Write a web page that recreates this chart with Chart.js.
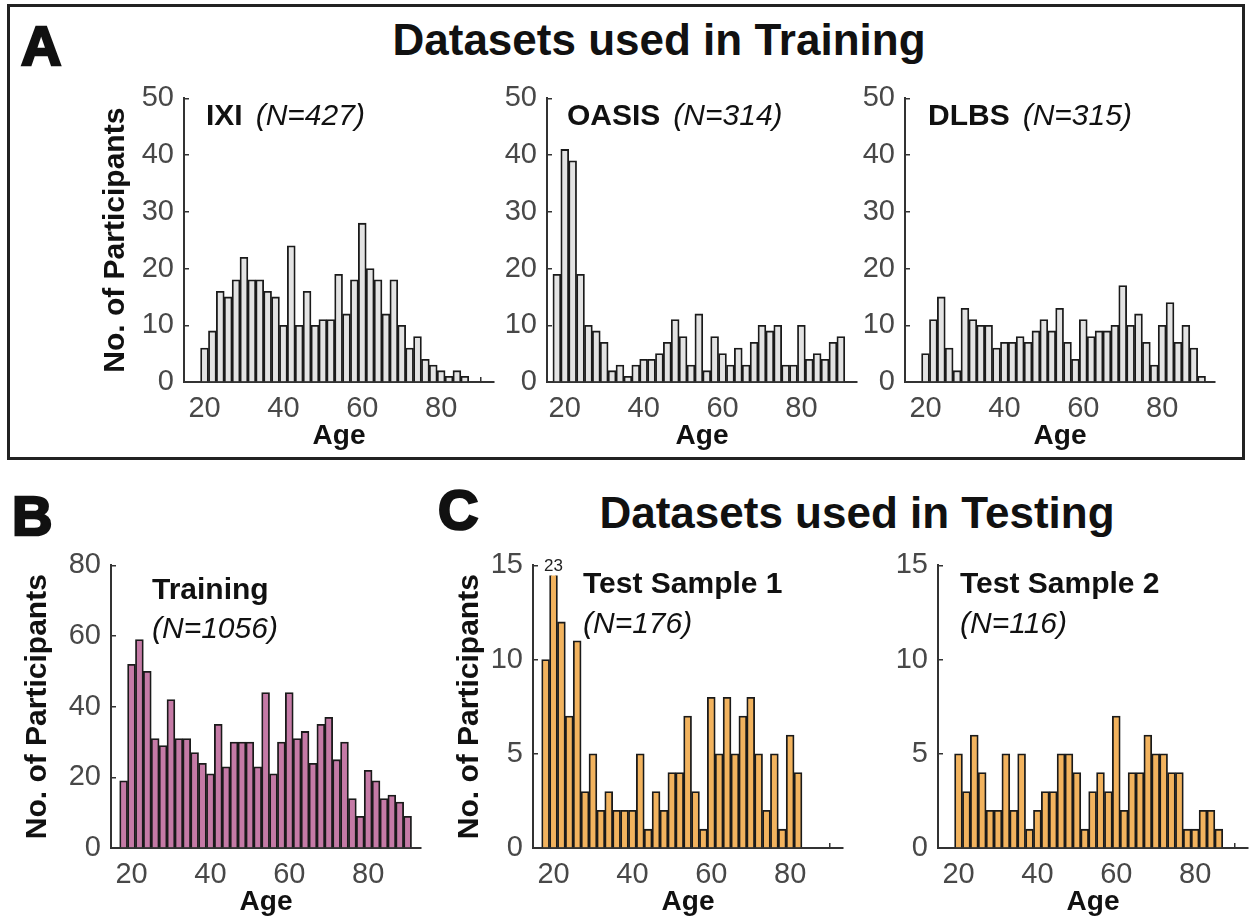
<!DOCTYPE html>
<html>
<head>
<meta charset="utf-8">
<script src="https://cdn.jsdelivr.net/npm/chart.js@4.4.0/dist/chart.umd.min.js"></script>
<style>
  body { margin: 0; background: #fff; width: 1252px; height: 921px; position: relative; overflow: hidden;
         font-family: "Liberation Sans", Arial, sans-serif; color: #111; }
  .frame { position: absolute; left: 7px; top: 4px; width: 1232px; height: 450px; border: 3px solid #222; }
  .letter { position: absolute; font-size: 56px; line-height: 1; font-weight: bold; -webkit-text-stroke: 2.5px #111; }
  .head { position: absolute; font-size: 44px; line-height: 1; font-weight: bold; transform: translateX(-50%); white-space: nowrap; }
  canvas { position: absolute; }
</style>
</head>
<body>
<div class="frame"></div>
<div class="letter" style="left:21px;top:18px">A</div>
<div class="head" style="left:659px;top:18px">Datasets used in Training</div>
<div class="letter" style="left:12px;top:488px">B</div>
<div class="letter" style="left:438px;top:482px">C</div>
<div class="head" style="left:857px;top:491px">Datasets used in Testing</div>

<canvas id="ixi"></canvas>
<canvas id="oasis"></canvas>
<canvas id="dlbs"></canvas>
<canvas id="training"></canvas>
<canvas id="test1"></canvas>
<canvas id="test2"></canvas>

<script>
// bin centres (2-year bins), shared by every histogram
const ageBins = [18, 20, 22, 24, 26, 28, 30, 32, 34, 36, 38, 40, 42, 44, 46, 48, 50, 52, 54,
                 56, 58, 60, 62, 64, 66, 68, 70, 72, 74, 76, 78, 80, 82, 84, 86, 88, 90];

// counts per bin (null = no bar)
const ixiCounts = [null, 6, 9, 16, 15, 18, 22, 18, 18, 16, 15, 10, 24, 10, 16, 10, 11, 11, 19,
                   12, 18, 28, 20, 18, 12, 18, 10, 6, 8, 4, 3, 2, 1, 2, 1, null, null];
const oasisCounts = [19, 41, 39, 19, 10, 9, 7, 2, 3, 1, 3, 4, 4, 5, 7, 11, 8, 3, 12,
                     2, 8, 5, 3, 6, 3, 7, 10, 9, 10, 3, 3, 10, 4, 5, 4, 7, 8];
const dlbsCounts = [null, 5, 11, 15, 6, 2, 13, 11, 10, 10, 6, 7, 7, 8, 7, 9, 11, 9, 13,
                    7, 4, 11, 8, 9, 9, 10, 17, 10, 12, 7, 3, 10, 14, 7, 10, 6, 1];
const trainingCounts = [19, 52, 59, 50, 31, 29, 42, 31, 31, 27, 24, 21, 35, 23, 30, 30, 30, 23, 44,
                        21, 30, 44, 31, 33, 24, 35, 37, 25, 30, 14, 9, 22, 19, 14, 15, 13, 9];
const test1Counts = [10, 23, 12, 7, 11, 3, 5, 2, 3, 2, 2, 2, 5, 1, 3, 2, 4, 4, 7,
                     3, 1, 8, 5, 8, 5, 7, 8, 5, 2, 5, 1, 6, 4, null, null, null, null];
const test2Counts = [null, 5, 3, 6, 4, 2, 2, 5, 2, 5, 1, 2, 3, 3, 5, 5, 4, 1, 3,
                     4, 3, 7, 2, 4, 4, 6, 5, 5, 4, 4, 1, 1, 2, 2, 1, null, null];

// tick labels
const xTicks = [20, 40, 60, 80];
const yTicksTrainSets = [0, 10, 20, 30, 40, 50];
const yTicksTraining = [0, 20, 40, 60, 80];
const yTicksTest = [0, 5, 10, 15];

Chart.defaults.font.family = '"Liberation Sans", Arial, sans-serif';

// panel subtitle: bold name + italic sample size
const subtitlePlugin = {
    id: 'subtitle',
    afterDraw(chart, args, o) {
        if (!o.name) return;
        const { ctx, chartArea } = chart;
        const x = chartArea.left + o.dx;
        const y = chartArea.top + o.dy;
        ctx.save();
        ctx.fillStyle = '#111';
        ctx.textBaseline = 'middle';
        ctx.font = 'bold 30px "Liberation Sans"';
        ctx.fillText(o.name, x, y);
        const w = ctx.measureText(o.name).width;
        ctx.font = 'italic 30px "Liberation Sans"';
        if (o.inline) ctx.fillText(o.n, x + w + 13, y);
        else ctx.fillText(o.n, x, y + o.dy2);
        ctx.restore();
    }
};

// print the count of any bar that runs past the top of the axis
const overflowPlugin = {
    id: 'overflow',
    afterDatasetsDraw(chart) {
        const { ctx, chartArea } = chart;
        const yMax = chart.scales.y.max;
        const meta = chart.getDatasetMeta(0);
        ctx.save();
        ctx.fillStyle = '#222';
        ctx.font = '17px "Liberation Sans"';
        ctx.textAlign = 'center';
        ctx.textBaseline = 'middle';
        chart.data.datasets[0].data.forEach((d, i) => {
            if (d.y !== null && d.y > yMax) ctx.fillText(String(d.y), meta.data[i].x, chartArea.top + 1);
        });
        ctx.restore();
    }
};

function drawHist(id, counts, cfg) {
    const plotW = 310, padTop = 20, padBottom = 71;
    const canvas = document.getElementById(id);
    canvas.width = cfg.padLeft + plotW + cfg.padRight;
    canvas.height = padTop + cfg.plotH + padBottom;
    canvas.style.left = (cfg.axisX - cfg.padLeft) + 'px';
    canvas.style.top = (cfg.topY - padTop) + 'px';

    const axisGrid = { drawOnChartArea: false, color: '#333', tickLength: -5, lineWidth: 1.5 };
    const axisBorder = { color: '#333', width: 2 };

    new Chart(canvas, {
        type: 'bar',
        data: {
            datasets: [{
                data: ageBins.map((a, i) => ({ x: a, y: counts[i] })),
                backgroundColor: cfg.fill,
                borderColor: '#1a1a1a',
                borderWidth: 1.8,
                categoryPercentage: 1,
                barPercentage: 1,
                clip: { left: 2, right: 2, top: -10, bottom: 2 }
            }]
        },
        options: {
            responsive: false,
            animation: false,
            layout: { padding: { top: padTop, right: cfg.padRight, left: 0, bottom: 0 } },
            plugins: {
                legend: { display: false },
                tooltip: { enabled: false },
                subtitle: cfg.sub
            },
            scales: {
                x: {
                    type: 'linear',
                    min: cfg.xMin,
                    max: cfg.xMax,
                    offset: false,
                    afterFit: s => { s.height = padBottom; },
                    afterBuildTicks: s => { s.ticks = xTicks.map(v => ({ value: v })); },
                    grid: axisGrid,
                    border: axisBorder,
                    ticks: { color: '#484848', font: { size: 29 }, padding: 15, maxRotation: 0 },
                    title: { display: true, text: 'Age', color: '#111', font: { size: 28, weight: 'bold' }, padding: 0 }
                },
                y: {
                    min: 0,
                    max: cfg.yMax,
                    afterFit: s => { s.width = cfg.padLeft; },
                    afterBuildTicks: s => { s.ticks = cfg.yTicks.map(v => ({ value: v })); },
                    grid: axisGrid,
                    border: axisBorder,
                    ticks: { color: '#484848', font: { size: 29 }, padding: 15 },
                    title: { display: !!cfg.yTitle, text: 'No. of Participants', color: '#111',
                             font: { size: 30, weight: 'bold' }, padding: 0 }
                }
            }
        },
        plugins: [subtitlePlugin, overflowPlugin]
    });
}

const grey = '#e3e3e3', mauve = '#c57aa6', orange = '#f2b35e';

drawHist('ixi', ixiCounts, { axisX: 184, topY: 86, plotH: 296, padLeft: 86, padRight: 8, xMin: 14.8, xMax: 93.4,
    yMax: 50, yTicks: yTicksTrainSets, yTitle: true, fill: grey,
    sub: { name: 'IXI', n: '(N=427)', dx: 22, dy: 18, inline: true } });
drawHist('oasis', oasisCounts, { axisX: 547, topY: 86, plotH: 296, padLeft: 60, padRight: 8, xMin: 15.5, xMax: 94.1,
    yMax: 50, yTicks: yTicksTrainSets, fill: grey,
    sub: { name: 'OASIS', n: '(N=314)', dx: 20, dy: 18, inline: true } });
drawHist('dlbs', dlbsCounts, { axisX: 905, topY: 86, plotH: 296, padLeft: 60, padRight: 8, xMin: 14.8, xMax: 93.4,
    yMax: 50, yTicks: yTicksTrainSets, fill: grey,
    sub: { name: 'DLBS', n: '(N=315)', dx: 23, dy: 18, inline: true } });
drawHist('training', trainingCounts, { axisX: 111, topY: 553, plotH: 295, padLeft: 91, padRight: 8, xMin: 14.8, xMax: 93.4,
    yMax: 80, yTicks: yTicksTraining, yTitle: true, fill: mauve,
    sub: { name: 'Training', n: '(N=1056)', dx: 41, dy: 25, dy2: 39 } });
drawHist('test1', test1Counts, { axisX: 533, topY: 553, plotH: 295, padLeft: 81, padRight: 8, xMin: 14.8, xMax: 93.4,
    yMax: 15, yTicks: yTicksTest, yTitle: true, fill: orange,
    sub: { name: 'Test Sample 1', n: '(N=176)', dx: 50, dy: 19, dy2: 40 } });
drawHist('test2', test2Counts, { axisX: 938, topY: 553, plotH: 295, padLeft: 60, padRight: 4, xMin: 14.8, xMax: 93.4,
    yMax: 15, yTicks: yTicksTest, fill: orange,
    sub: { name: 'Test Sample 2', n: '(N=116)', dx: 22, dy: 19, dy2: 40 } });
</script>
</body>
</html>
